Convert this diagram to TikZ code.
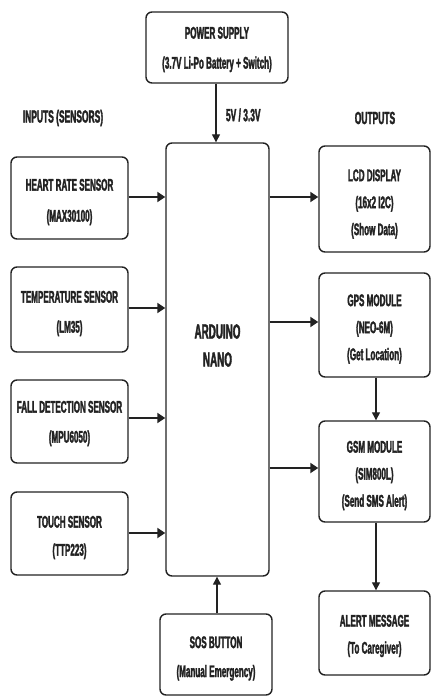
\documentclass[tikz,border=0pt]{standalone}
\usepackage{fontspec}
\setmainfont{Liberation Sans}[FakeStretch=0.48, BoldFeatures={FakeBold=1.8}]
\usetikzlibrary{arrows.meta}
\definecolor{ink}{HTML}{222222}
\tikzset{
  blk/.style={draw=ink, line width=1.4pt, rounded corners=6pt, fill=white, inner sep=0pt},
  lbl/.style={align=center, text=ink, inner sep=0pt, font=\fontsize{16.8pt}{30pt}\selectfont\bfseries},
  three/.style={font=\fontsize{16.8pt}{27pt}\selectfont\bfseries},
  thick arrow/.style={draw=ink, line width=2.6pt, -{Triangle[length=8pt,width=10pt]}},
  thin arrow/.style={draw=ink, line width=1.3pt, -{Triangle[length=8pt,width=8pt]}},
  hdr/.style={text=ink, font=\fontsize{17.6pt}{19pt}\selectfont\bfseries, inner sep=0pt},
}
\begin{document}
\begin{tikzpicture}[x=1pt,y=-1pt]
\useasboundingbox (0,0) rectangle (431,696);
\fill[white] (0,0) rectangle (431,696);
\begin{scope}
\clip (0,0) rectangle (431,696);
% boxes
\node[blk, minimum width=142pt, minimum height=71pt] (power) at (217,47.5) {};
\node[blk, minimum width=117pt, minimum height=82pt] (heart) at (69.5,198) {};
\node[blk, minimum width=117pt, minimum height=85pt] (temp) at (69.5,309.5) {};
\node[blk, minimum width=117pt, minimum height=83pt] (fall) at (69.5,421.5) {};
\node[blk, minimum width=117pt, minimum height=83pt] (touch) at (69.5,533.5) {};
\node[blk, minimum width=103pt, minimum height=433pt] (ard) at (217.5,359.5) {};
\node[blk, minimum width=112pt, minimum height=81pt] (sos) at (216,654.5) {};
\node[blk, minimum width=111pt, minimum height=106pt] (lcd) at (374.5,199) {};
\node[blk, minimum width=111pt, minimum height=104pt] (gps) at (374.5,325) {};
\node[blk, minimum width=111pt, minimum height=101pt] (gsm) at (374.5,471.5) {};
\node[blk, minimum width=111pt, minimum height=84pt] (alert) at (374.5,633) {};
% texts
\node[lbl] (power-t) at ([yshift=-2pt]power.center) {POWER SUPPLY\\(3.7V Li-Po Battery + Switch)};
\node[hdr] (inhdr) at (63,118) {INPUTS (SENSORS)};
\node[hdr] (outhdr) at (375,118) {OUTPUTS};
\node[lbl, font=\fontsize{16.8pt}{31pt}\selectfont\bfseries] (heart-t) at ([yshift=-4pt]heart.center) {HEART RATE SENSOR\\(MAX30100)};
\node[lbl] (temp-t) at ([yshift=-4pt]temp.center) {TEMPERATURE SENSOR\\(LM35)};
\node[lbl] (fall-t) at ([yshift=-2pt]fall.center) {FALL DETECTION SENSOR\\(MPU6050)};
\node[lbl, font=\fontsize{16.8pt}{28pt}\selectfont\bfseries] (touch-t) at ([yshift=-4pt]touch.center) {TOUCH SENSOR\\(TTP223)};
\node[lbl, font=\fontsize{20.5pt}{28pt}\selectfont\bfseries] (ard-t) at ([yshift=14pt]ard.center) {ARDUINO\\NANO};
\node[lbl, font=\fontsize{16.8pt}{29pt}\selectfont\bfseries] (sos-t) at ([yshift=-4pt]sos.center) {SOS BUTTON\\(Manual Emergency)};
\node[lbl, three] (lcd-t) at ([yshift=-5pt]lcd.center) {LCD DISPLAY\\(16x2 I2C)\\(Show Data)};
\node[lbl, three] (gps-t) at ([yshift=-4pt]gps.center) {GPS MODULE\\(NEO-6M)\\(Get Location)};
\node[lbl, three] (gsm-t) at ([yshift=-4pt]gsm.center) {GSM MODULE\\(SIM800L)\\(Send SMS Alert)};
\node[lbl, three] (alert-t) at ([yshift=-3pt]alert.center) {ALERT MESSAGE\\(To Caregiver)};
% connectors
\draw[thin arrow] (power.south -| 216,0) -- node[right, xshift=6pt, yshift=-2pt, text=ink, font=\fontsize{17.5pt}{19pt}\selectfont\bfseries] (vlabel) {5V / 3.3V} (ard.north -| 216,0);
\draw[thick arrow] (heart.east |- 0,197) -- (ard.west |- 0,197);
\draw[thick arrow] (temp.east |- 0,308) -- (ard.west |- 0,308);
\draw[thick arrow] (fall.east |- 0,418) -- (ard.west |- 0,418);
\draw[thick arrow] (touch.east |- 0,533) -- (ard.west |- 0,533);
\draw[thick arrow] (ard.east |- 0,197) -- (lcd.west |- 0,197);
\draw[thick arrow] (ard.east |- 0,322) -- (gps.west |- 0,322);
\draw[thick arrow] (ard.east |- 0,468) -- (gsm.west |- 0,468);
\draw[thin arrow] (gps.south -| 376,0) -- (gsm.north -| 376,0);
\draw[thin arrow] (gsm.south -| 376,0) -- (alert.north -| 376,0);
\draw[thin arrow] (sos.north -| 217,0) -- (ard.south -| 217,0);
\end{scope}
\end{tikzpicture}
\end{document}
